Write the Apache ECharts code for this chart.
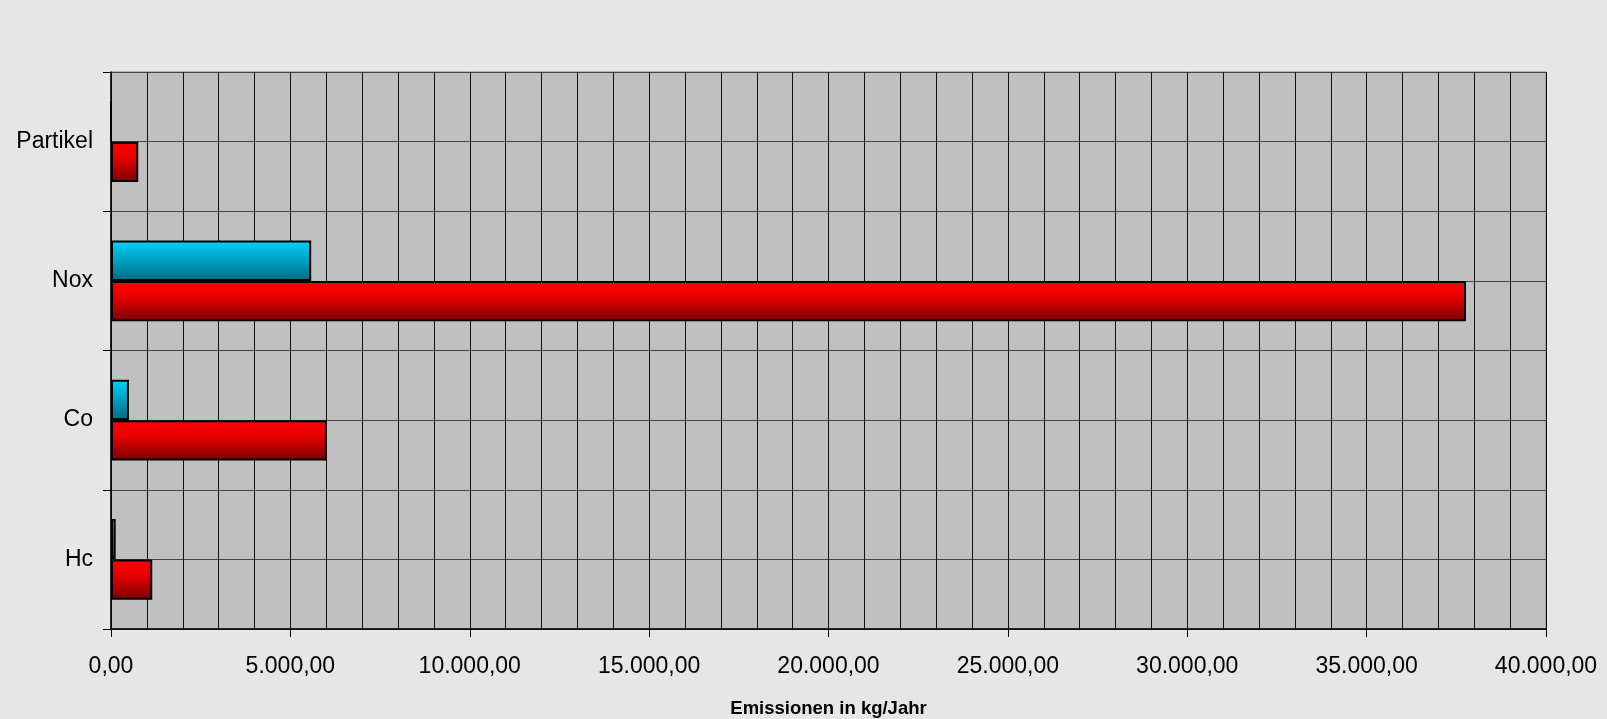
<!DOCTYPE html>
<html>
<head>
<meta charset="utf-8">
<script src="https://cdn.jsdelivr.net/npm/echarts@6/dist/echarts.min.js"></script>
<style>
  html, body { margin: 0; padding: 0; background: #e6e6e6; }
  #chart { width: 1607px; height: 719px; }
</style>
</head>
<body>
<div id="chart"></div>
<script>
// Kategorien (von unten nach oben)
var categories = ['Hc', 'Co', 'Nox', 'Partikel'];
// Emissionen in kg/Jahr
var blueValues = [130, 500, 5580, 0];
var redValues = [1150, 6020, 37770, 760];
var xMax = 40000;
var xStep = 5000;

function deFormat(v) {
    var parts = v.toFixed(2).split('.');
    var intPart = parts[0].replace(/\B(?=(\d{3})+(?!\d))/g, '.');
    return intPart + ',' + parts[1];
}

var chart = echarts.init(document.getElementById('chart'));

var option = {
    backgroundColor: '#e6e6e6',
    animation: false,
    grid: {
        left: 111,
        right: 61,
        top: 72,
        bottom: 90,
        outerBoundsMode: 'none',
        show: true,
        backgroundColor: '#c0c0c0',
        borderColor: '#808080',
        borderWidth: 1
    },
    xAxis: {
        type: 'value',
        min: 0,
        max: xMax,
        interval: xStep,
        name: 'Emissionen in kg/Jahr',
        nameLocation: 'middle',
        nameGap: 70,
        nameTextStyle: {
            fontFamily: 'Liberation Sans',
            fontSize: 18.5,
            fontWeight: 'bold',
            color: '#000'
        },
        axisLine: { show: true, lineStyle: { color: '#000', width: 1.5 } },
        axisTick: { show: true, length: 8, inside: false, lineStyle: { color: '#000' } },
        axisLabel: {
            margin: 26,
            fontFamily: 'Liberation Sans',
            fontSize: 23,
            color: '#000',
            formatter: function (v) { return deFormat(v); }
        },
        splitLine: { show: true, lineStyle: { color: '#111', width: 1 } },
        minorTick: { show: false, splitNumber: 5 },
        minorSplitLine: { show: true, lineStyle: { color: '#111', width: 1 } }
    },
    yAxis: [
        {
            type: 'category',
            data: categories,
            axisLine: { show: true, lineStyle: { color: '#000', width: 1.5 } },
            axisTick: { show: true, length: 8, lineStyle: { color: '#000' } },
            axisLabel: {
                margin: 18,
                fontFamily: 'Liberation Sans',
                fontSize: 23,
                color: '#000'
            },
            splitLine: { show: false }
        },
        {
            type: 'value',
            min: 0,
            max: categories.length,
            interval: 0.5,
            position: 'right',
            axisLine: { show: false },
            axisTick: { show: false },
            axisLabel: { show: false },
            splitLine: { show: true, lineStyle: { color: '#444', width: 1 } }
        }
    ],
    series: [
        {
            name: 'blau',
            type: 'bar',
            data: blueValues,
            barGap: '0%',
            barCategoryGap: '42%',
            itemStyle: {
                borderColor: '#000',
                borderWidth: 2,
                color: new echarts.graphic.LinearGradient(0, 0, 0, 1, [
                    { offset: 0, color: '#00d2ff' },
                    { offset: 1, color: '#006a85' }
                ])
            }
        },
        {
            name: 'rot',
            type: 'bar',
            data: redValues,
            barGap: '0%',
            barCategoryGap: '42%',
            itemStyle: {
                borderColor: '#000',
                borderWidth: 2,
                color: new echarts.graphic.LinearGradient(0, 0, 0, 1, [
                    { offset: 0, color: '#ff0000' },
                    { offset: 0.35, color: '#ee0000' },
                    { offset: 1, color: '#7a0000' }
                ])
            }
        }
    ]
};

chart.setOption(option);
</script>
</body>
</html>
